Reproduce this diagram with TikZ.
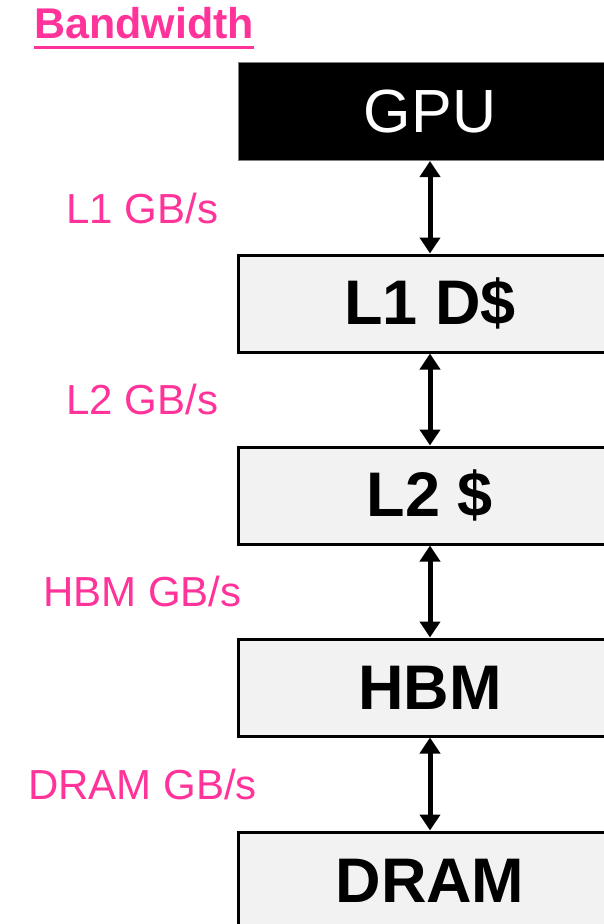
\documentclass[tikz,border=0pt]{standalone}
\usepackage{fontspec}
\setmainfont{Liberation Sans}
\usetikzlibrary{arrows.meta}
\definecolor{bwpink}{RGB}{255,51,153}
\definecolor{boxgray}{RGB}{242,242,242}
\begin{document}
\begin{tikzpicture}[x=1pt,y=-1pt,
  membox/.style={draw=black, line width=3pt, fill=boxgray, minimum width=384pt,
    minimum height=97pt, inner sep=0pt, font=\fontsize{63}{70}\selectfont\bfseries},
  gpubox/.style={draw=gray, line width=1pt, fill=black, text=white, minimum width=384pt,
    minimum height=98pt, inner sep=0pt, font=\fontsize{61}{70}\selectfont},
  rate/.style={text=bwpink, inner sep=0pt, anchor=base, font=\fontsize{42}{48}\selectfont},
  tip/.style={Triangle[width=20pt,length=16pt]},
  link/.style={line width=5pt, {Triangle[width=20pt,length=16pt]}-{Triangle[width=20pt,length=16pt]}}
]
\useasboundingbox (0,0) rectangle (603,924);

% heading
\node[text=bwpink, inner sep=0pt, anchor=base west, font=\fontsize{43}{48}\selectfont\bfseries]
  (bw) at (34,38) {Bandwidth};
\draw[bwpink, line width=3pt] ([yshift=-9pt]bw.base west) -- ([yshift=-9pt]bw.base east);

% memory hierarchy
\node[gpubox] (gpu) at (430,111.5) {GPU};
\node[membox] (l1) at (430,303.5) {L1 D\$};
\node[membox] (l2) at (430,495.5) {L2 \$};
\node[membox] (hbm) at (430,687.5) {HBM};
\node[membox] (dram) at (430,880.5) {DRAM};

% links between levels
\draw[link] (gpu.south) -- (l1.north);
\draw[link] (l1.south) -- (l2.north);
\draw[link] (l2.south) -- (hbm.north);
\draw[link] (hbm.south) -- (dram.north);

% bandwidth labels
\node[rate] (r1) at (142.5,223) {L1 GB/s};
\node[rate] (r2) at (142.5,414.5) {L2 GB/s};
\node[rate] (r3) at (142.5,606.5) {HBM GB/s};
\node[rate] (r4) at (142.5,799) {DRAM GB/s};
\end{tikzpicture}
\end{document}
